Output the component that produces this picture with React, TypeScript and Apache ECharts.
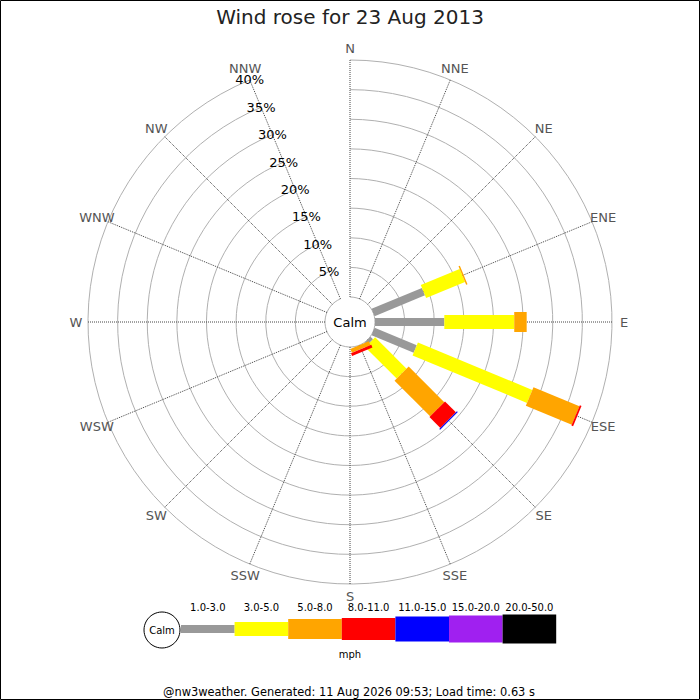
import React, { useEffect, useRef } from "react";
import * as echarts from "echarts";

// ---- data ----
const directions = ["N", "NNE", "NE", "ENE", "E", "ESE", "SE", "SSE", "S", "SSW", "SW", "WSW", "W", "WNW", "NW", "NNW"];
const speedClasses = ["1.0-3.0", "3.0-5.0", "5.0-8.0", "8.0-11.0", "11.0-15.0", "15.0-20.0", "20.0-50.0"];
// percentage of the day per direction, for each speed class (mph)
const speed1to3 = [0, 0, 0, 9.2, 11.7, 7.7, 0.6, 0, 0, 0, 0, 0, 0, 0, 0, 0];
const speed3to5 = [0, 0, 0, 7.1, 11.8, 20.9, 7.5, 0, 0, 0, 0, 0, 0, 0, 0, 0];
const speed5to8 = [0, 0, 0, 0.25, 2.1, 8.4, 8.5, 0.7, 0, 0, 0, 0, 0, 0, 0, 0];
const speed8to11 = [0, 0, 0, 0, 0, 0.3, 2.6, 0.5, 0, 0, 0, 0, 0, 0, 0, 0];
const speed11to15 = [0, 0, 0, 0, 0, 0, 0.2, 0, 0, 0, 0, 0, 0, 0, 0, 0];
const speed15to20 = [0, 0, 0, 0, 0, 0, 0, 0, 0, 0, 0, 0, 0, 0, 0, 0];
const speed20to50 = [0, 0, 0, 0, 0, 0, 0, 0, 0, 0, 0, 0, 0, 0, 0, 0];
const radiusTicks = [5, 10, 15, 20, 25, 30, 35, 40];
const titleText = "Wind rose for 23 Aug 2013";
const unitText = "mph";
const calmText = "Calm";
const footerText = "@nw3weather. Generated: 11 Aug 2026 09:53; Load time: 0.63 s";

// ---- styles ----
const classColors = ["#999999", "#ffff00", "#ffa500", "#ff0000", "#0000ff", "#a020f0", "#000000"];
const classWidths = [8, 14, 20, 22, 25, 27, 29];
const FONT = "DejaVu Sans";
const CX = 350;
const CY = 322;
const R_IN = 25;
const R_OUT = 262;
const R_MAX = 40;

export default function App() {
  const ref = useRef<HTMLDivElement>(null);

  useEffect(() => {
    if (!ref.current) return;
    const chart = echarts.init(ref.current, null, { renderer: "svg" });

    const allClasses = [speed1to3, speed3to5, speed5to8, speed8to11, speed11to15, speed15to20, speed20to50];
    const barData: number[][] = [];
    directions.forEach((_, di) => {
      let cum = 0;
      allClasses.forEach((arr, k) => {
        const v = arr[di];
        if (v > 0) {
          barData.push([cum, di, cum + v, k]);
        }
        cum += v;
      });
    });

    const dirVec = (api: any, di: number) => {
      const o = api.coord([0, di]);
      const f = api.coord([R_MAX, di]);
      const len = Math.hypot(f[0] - o[0], f[1] - o[1]);
      return { o, f, dx: (f[0] - o[0]) / len, dy: (f[1] - o[1]) / len };
    };

    const legendX0 = 181;
    const legendStep = 53.6;
    const legendY = 629;

    const graphics: any[] = [
      {
        type: "rect",
        shape: { x: 0.5, y: 0.5, width: 699, height: 699 },
        style: { fill: "none", stroke: "#000", lineWidth: 1 },
        silent: true,
      },
      {
        type: "text",
        x: 350,
        y: 17,
        style: { text: titleText, fill: "#222", font: `20px "${FONT}"`, align: "center", verticalAlign: "middle" },
      },
      {
        type: "text",
        x: CX,
        y: CY,
        z: 10,
        style: { text: calmText, fill: "#000", font: `13px "${FONT}"`, align: "center", verticalAlign: "middle" },
      },
      {
        type: "circle",
        shape: { cx: 162, cy: 630, r: 18 },
        style: { fill: "#fff", stroke: "#000", lineWidth: 1 },
      },
      {
        type: "text",
        x: 162,
        y: 630,
        style: { text: calmText, fill: "#000", font: `10px "${FONT}"`, align: "center", verticalAlign: "middle" },
      },
      {
        type: "text",
        x: 350,
        y: 654,
        style: { text: unitText, fill: "#000", font: `10px "${FONT}"`, align: "center", verticalAlign: "middle" },
      },
      {
        type: "text",
        x: 349,
        y: 692,
        style: { text: footerText, fill: "#000", font: `11.4px "${FONT}"`, align: "center", verticalAlign: "middle" },
      },
    ];
    speedClasses.forEach((c, i) => {
      graphics.push({
        type: "rect",
        shape: { x: legendX0 + i * legendStep, y: legendY - classWidths[i] / 2, width: legendStep, height: classWidths[i] },
        style: { fill: classColors[i] },
      });
      graphics.push({
        type: "text",
        x: legendX0 + (i + 0.5) * legendStep,
        y: 607,
        style: { text: c, fill: "#000", font: `10px "${FONT}"`, align: "center", verticalAlign: "middle" },
      });
    });

    chart.setOption({
      animation: false,
      backgroundColor: "#fff",
      polar: { center: [CX, CY], radius: [R_IN, R_OUT] },
      angleAxis: {
        type: "category",
        data: directions,
        startAngle: 90,
        clockwise: true,
        boundaryGap: false,
        axisLine: { show: false },
        axisTick: { show: false },
        axisLabel: { show: false },
        splitLine: { show: true, lineStyle: { color: "#444", type: "dotted", width: 1 } },
      },
      radiusAxis: {
        type: "value",
        min: 0,
        max: R_MAX,
        interval: 5,
        axisLine: { show: false },
        axisTick: { show: false },
        axisLabel: { show: false },
        splitLine: { show: true, lineStyle: { color: "#b0b0b0", width: 1 } },
      },
      series: [
        {
          type: "custom",
          name: "bars",
          coordinateSystem: "polar",
          encode: { radius: 0, angle: 1 },
          data: barData,
          renderItem: (params: any, api: any) => {
            const r0 = api.value(0);
            const di = api.value(1);
            const r1 = api.value(2);
            const k = api.value(3);
            const a = api.coord([r0, di]);
            const b = api.coord([r1, di]);
            const { dx, dy } = dirVec(api, di);
            const hw = classWidths[k] / 2;
            const nx = -dy * hw;
            const ny = dx * hw;
            return {
              type: "polygon",
              shape: {
                points: [
                  [a[0] + nx, a[1] + ny],
                  [b[0] + nx, b[1] + ny],
                  [b[0] - nx, b[1] - ny],
                  [a[0] - nx, a[1] - ny],
                ],
              },
              style: { fill: classColors[k] },
            };
          },
        },
        {
          type: "custom",
          name: "dirLabels",
          coordinateSystem: "polar",
          encode: { radius: 0, angle: 1 },
          data: directions.map((_, i) => [R_MAX, i]),
          renderItem: (params: any, api: any) => {
            const di = api.value(1);
            const { f, dx, dy } = dirVec(api, di);
            return {
              type: "text",
              x: f[0] + dx * 12,
              y: f[1] + dy * 12,
              style: {
                text: directions[params.dataIndex],
                fill: "#555",
                font: `13px "${FONT}"`,
                align: "center",
                verticalAlign: "middle",
              },
            };
          },
        },
        {
          type: "custom",
          name: "ringLabels",
          coordinateSystem: "polar",
          encode: { radius: 0, angle: 1 },
          data: radiusTicks.map((t) => [t, directions.indexOf("NNW")]),
          z: 5,
          renderItem: (params: any, api: any) => {
            const p = api.coord([api.value(0), api.value(1)]);
            return {
              type: "text",
              x: p[0],
              y: p[1],
              style: {
                text: radiusTicks[params.dataIndex] + "%",
                fill: "#000",
                font: `13px "${FONT}"`,
                align: "center",
                verticalAlign: "middle",
              },
            };
          },
        },
      ],
      graphic: graphics,
    });

    return () => chart.dispose();
  }, []);

  return (
    <div
      ref={ref}
      style={{ position: "fixed", left: 0, top: 0, width: 700, height: 700, background: "#fff" }}
    />
  );
}
